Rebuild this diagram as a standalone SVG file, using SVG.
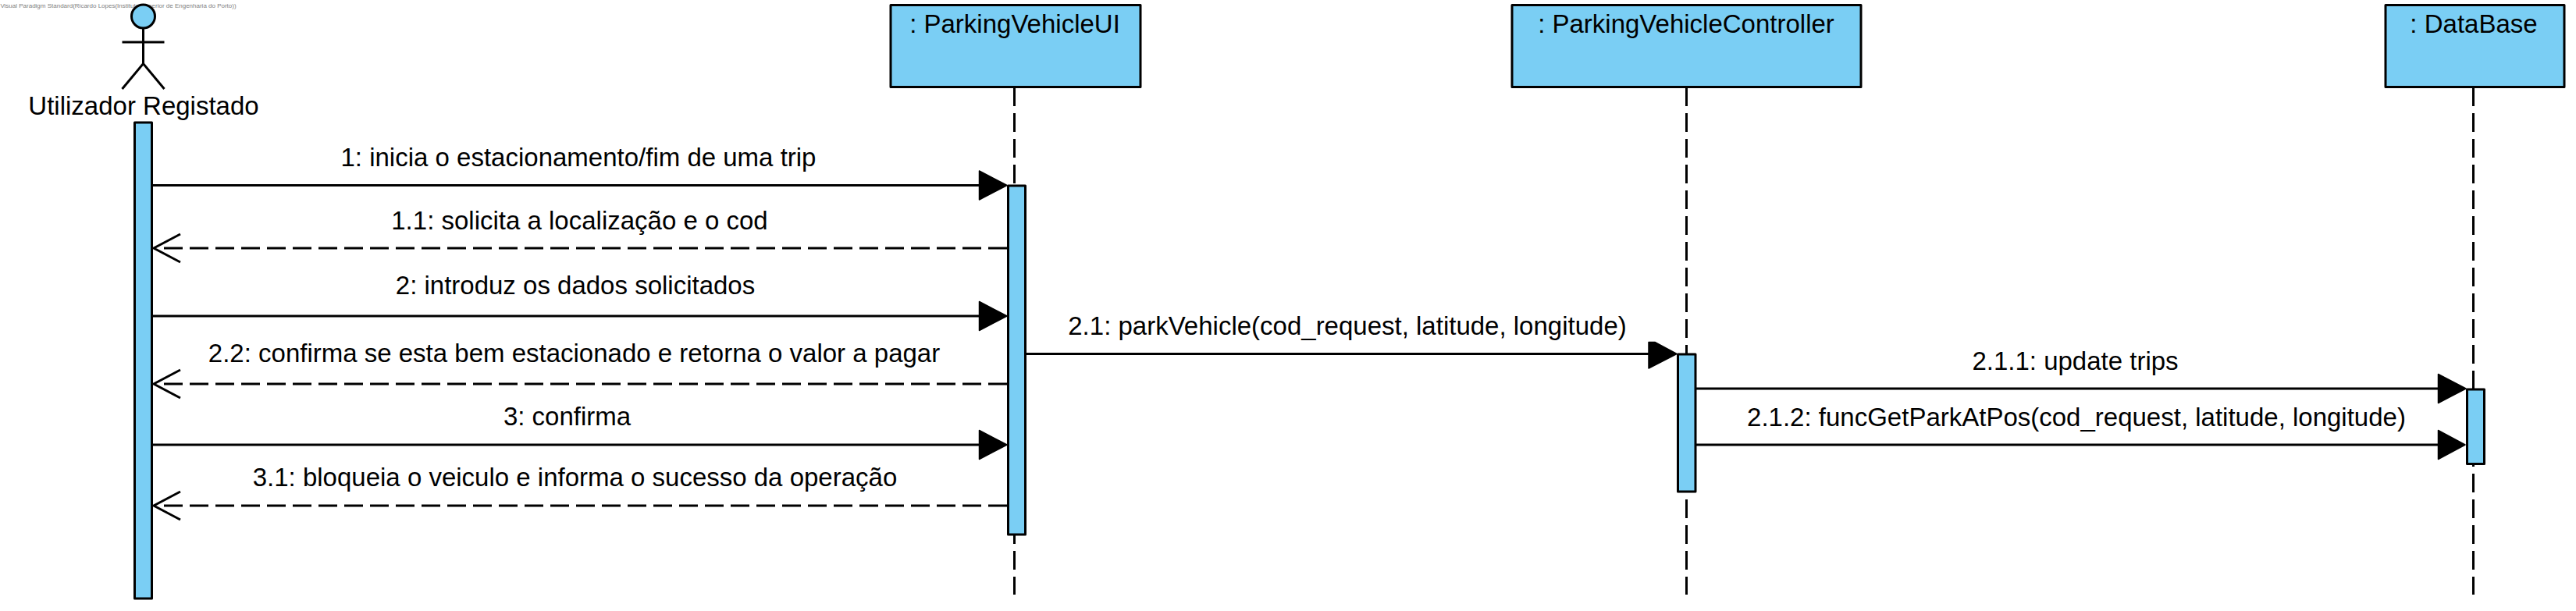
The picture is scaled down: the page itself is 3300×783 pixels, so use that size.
<svg xmlns="http://www.w3.org/2000/svg" width="3300" height="783" viewBox="0 0 3300 783">
<style>
text{font-family:"Liberation Sans",Arial,sans-serif;font-size:33px;fill:#000;text-anchor:middle}
.b{fill:#7acef4;stroke:#000;stroke-width:3;stroke-linejoin:round}
.l{stroke:#000;stroke-width:3;fill:none}
.d{stroke:#000;stroke-width:3;fill:none;stroke-dasharray:24 9}
.h{fill:#000;stroke:#000;stroke-width:1.5;stroke-linejoin:round}
</style>
<text x="151.5" y="10" style="font-size:8px;fill:#808080">Visual Paradigm Standard(Ricardo Lopes(Instituto Superior de Engenharia do Porto))</text>
<g id="lifelines">
<line class="d" x1="1299.5" y1="112" x2="1299.5" y2="762"/>
<line class="d" x1="2160.5" y1="112" x2="2160.5" y2="762"/>
<line class="d" x1="3168.5" y1="112" x2="3168.5" y2="762"/>
</g>
<g id="actor">
<circle class="b" cx="183.5" cy="21" r="15"/>
<path class="l" d="M183.5 36V81.5M156.5 54H210.5M156.5 114L183.5 81.5L210.5 114"/>
<text x="184" y="146.5">Utilizador Registado</text>
<rect class="b" x="172.5" y="157" width="22" height="610"/>
</g>
<g id="ui">
<rect class="b" x="1141" y="6.5" width="320" height="105"/>
<text x="1300" y="41.5">: ParkingVehicleUI</text>
<rect class="b" x="1291.5" y="238" width="22" height="447"/>
</g>
<g id="controller">
<rect class="b" x="1937" y="6.5" width="447" height="105"/>
<text x="2160" y="41.5">: ParkingVehicleController</text>
<rect class="b" x="2149.5" y="454" width="22.5" height="176"/>
</g>
<g id="database">
<rect class="b" x="3056" y="6.5" width="229" height="105"/>
<text x="3169" y="41.5">: DataBase</text>
<rect class="b" x="3160.5" y="499" width="22" height="95.5"/>
</g>
<g id="connectors">
<line class="l" x1="195" y1="237.5" x2="1256" y2="237.5"/><path class="h" d="M1254.5 219L1290 237.5L1254.5 256Z"/>
<line class="d" x1="1290" y1="318" x2="210" y2="318"/><path class="l" d="M231 300L197 318L231 336"/>
<line class="l" x1="195" y1="405" x2="1256" y2="405"/><path class="h" d="M1254.5 386.5L1290 405L1254.5 423.5Z"/>
<line class="d" x1="1290" y1="492" x2="210" y2="492"/><path class="l" d="M231 474L197 492L231 510"/>
<line class="l" x1="195" y1="570" x2="1256" y2="570"/><path class="h" d="M1254.5 551.5L1290 570L1254.5 588.5Z"/>
<line class="d" x1="1290" y1="648" x2="210" y2="648"/><path class="l" d="M231 630L197 648L231 666"/>
<line class="l" x1="1315" y1="453.5" x2="2114" y2="453.5"/><path class="h" d="M2112 438.5L2120 438.5L2148 453.5L2112 472Z"/>
<line class="l" x1="2173" y1="498" x2="3125" y2="498"/><path class="h" d="M3123.5 479.5L3159 498L3123.5 516.5Z"/>
<line class="l" x1="2173" y1="570" x2="3125" y2="570"/><path class="h" d="M3123.5 551.5L3158 570L3123.5 588.5Z"/>
<text x="741" y="213">1: inicia o estacionamento/fim de uma trip</text>
<text x="742.5" y="294">1.1: solicita a localização e o cod</text>
<text x="737" y="377">2: introduz os dados solicitados</text>
<text x="735.5" y="463.5">2.2: confirma se esta bem estacionado e retorna o valor a pagar</text>
<text x="726.5" y="545">3: confirma</text>
<text x="736.5" y="623">3.1: bloqueia o veiculo e informa o sucesso da operação</text>
<text x="1726" y="429">2.1: parkVehicle(cod_request, latitude, longitude)</text>
<text x="2658.5" y="474">2.1.1: update trips</text>
<text x="2660" y="546">2.1.2: funcGetParkAtPos(cod_request, latitude, longitude)</text>
</g>
</svg>
